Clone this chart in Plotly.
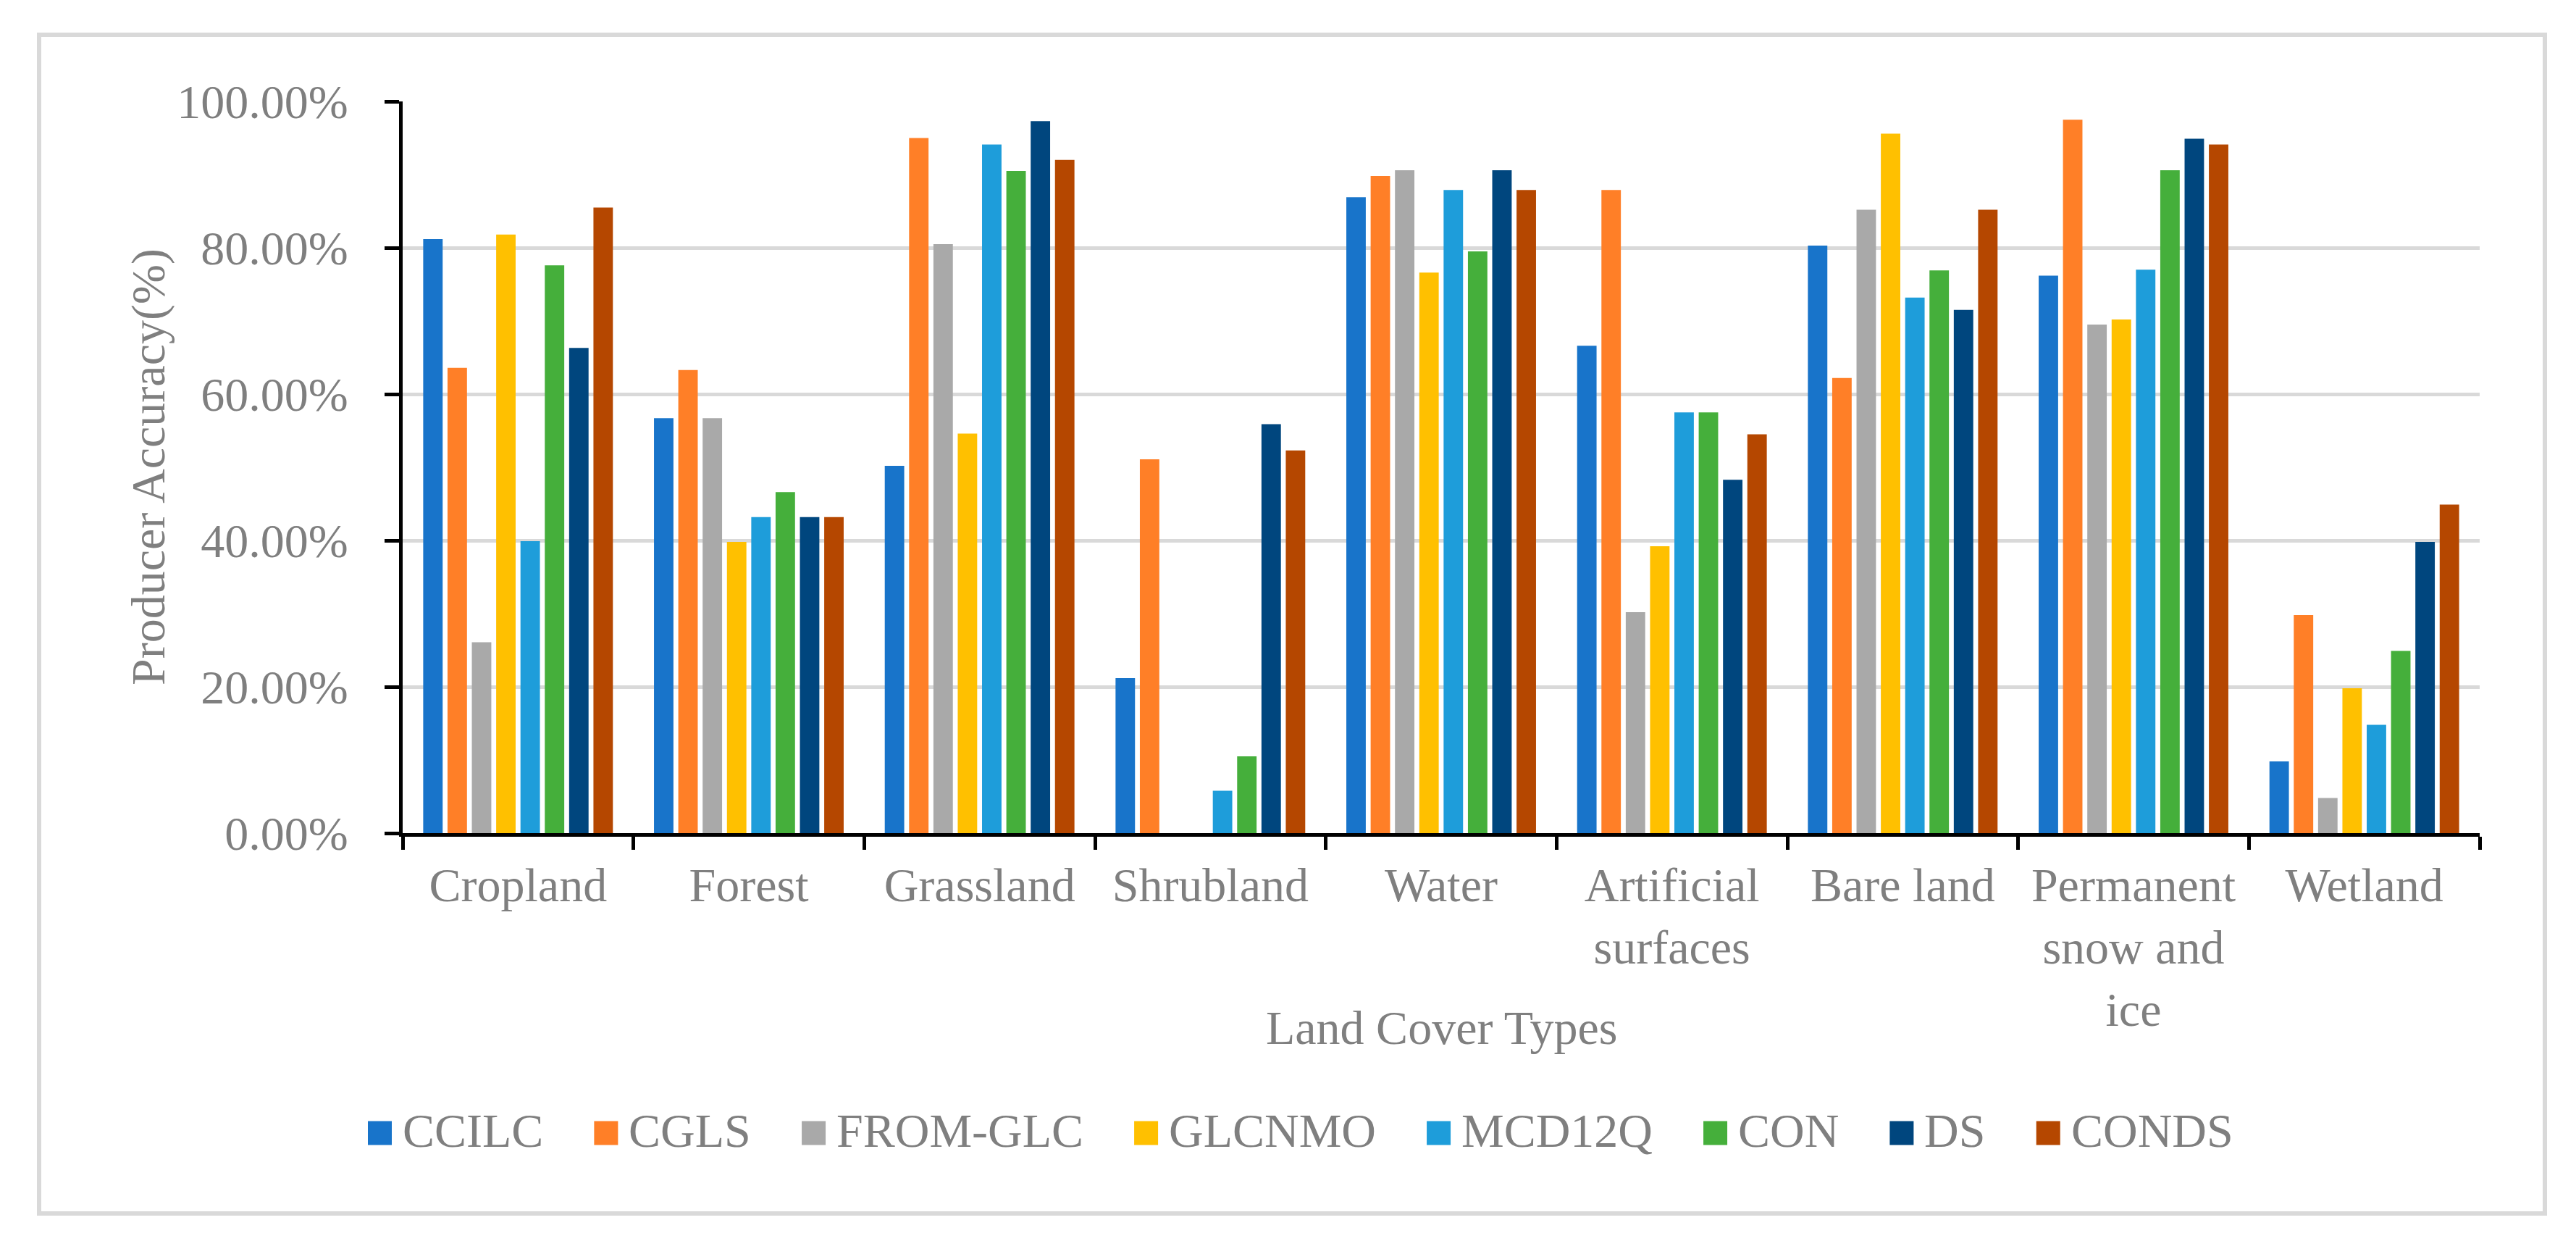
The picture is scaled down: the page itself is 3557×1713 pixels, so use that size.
import plotly.graph_objects as go

# ---------------- data ----------------
categories = ["Cropland", "Forest", "Grassland", "Shrubland", "Water",
              "Artificial surfaces", "Bare land", "Permanent snow and ice", "Wetland"]
tick_labels = ["Cropland", "Forest", "Grassland", "Shrubland", "Water",
               "Artificial<br>surfaces", "Bare land", "Permanent<br>snow and<br>ice", "Wetland"]

series_names = ["CCILC", "CGLS", "FROM-GLC", "GLCNMO", "MCD12Q", "CON", "DS", "CONDS"]

ccilc    = [81.2, 56.7, 50.2, 21.2, 86.9, 66.6, 80.3, 76.2, 9.8]
cgls     = [63.6, 63.3, 95.0, 51.1, 89.8, 87.9, 62.2, 97.5, 29.8]
from_glc = [26.1, 56.7, 80.5, 0.0, 90.6, 30.2, 85.2, 69.5, 4.8]
glcnmo   = [81.8, 39.8, 54.6, 0.0, 76.6, 39.2, 95.6, 70.2, 19.8]
mcd12q   = [39.9, 43.2, 94.1, 5.8, 87.9, 57.5, 73.2, 77.0, 14.8]
con      = [77.6, 46.6, 90.5, 10.5, 79.5, 57.5, 76.9, 90.6, 24.9]
ds       = [66.3, 43.2, 97.3, 55.9, 90.6, 48.3, 71.5, 94.9, 39.8]
conds    = [85.5, 43.2, 92.0, 52.3, 87.9, 54.5, 85.2, 94.1, 44.9]

series_values = [ccilc, cgls, from_glc, glcnmo, mcd12q, con, ds, conds]
series_colors = ["#1874CA", "#FF7F27", "#A9A9A9", "#FFC000",
                 "#1E9DDA", "#45AF3B", "#00467E", "#B54700"]

y_ticks = [0, 20, 40, 60, 80, 100]
y_tick_text = ["0.00%", "20.00%", "40.00%", "60.00%", "80.00%", "100.00%"]

# ---------------- layout geometry (px) ----------------
W, H = 3557, 1713
L, R, T, B = 548, 3416, 132, 1142
FONT = "Liberation Serif, Times New Roman, serif"
FS = 66
GRAY = "#7F7F7F"


def px2x(px):
    return (px - L) / (R - L)


def py2y(py):
    return (B - py) / (B - T)


fig = go.Figure()
for name, vals, col in zip(series_names, series_values, series_colors):
    fig.add_trace(go.Bar(x=tick_labels, y=vals, name=name,
                         marker=dict(color=col, line=dict(width=0)),
                         showlegend=False))

# outer chart border
shapes = [dict(type="rect", xref="paper", yref="paper",
               x0=px2x(46), x1=px2x(3506), y0=py2y(1667), y1=py2y(40),
               line=dict(color="#D9D9D9", width=6), fillcolor="rgba(0,0,0,0)",
               layer="below")]
annotations = []

# custom legend (large squares like the source)
char_w = {"C": .667, "I": .333, "L": .611, "G": .722, "S": .556, "F": .556,
          "R": .667, "O": .722, "M": .889, "-": .333, "N": .722, "D": .722,
          "1": .5, "2": .5, "Q": .722}
sq, sq_gap, item_gap = 33, 13, 72
x = 500
ycen = 1552
for name, col in zip(series_names, series_colors):
    shapes.append(dict(type="rect", xref="paper", yref="paper",
                       x0=px2x(x), x1=px2x(x + sq),
                       y0=py2y(ycen + 4 + sq / 2), y1=py2y(ycen + 4 - sq / 2),
                       line=dict(width=0), fillcolor=col))
    tx = x + sq + sq_gap
    annotations.append(dict(text=name, xref="paper", yref="paper",
                            x=px2x(tx), y=py2y(ycen), xanchor="left", yanchor="middle",
                            showarrow=False, font=dict(family=FONT, size=FS, color=GRAY)))
    tw = sum(char_w.get(c, .6) for c in name) * FS
    x = tx + tw + item_gap

# axis titles
annotations.append(dict(text="Land Cover Types", xref="paper", yref="paper",
                        x=0.5, y=py2y(1410), xanchor="center", yanchor="middle",
                        showarrow=False, font=dict(family=FONT, size=FS, color=GRAY)))
annotations.append(dict(text="Producer Accuracy(%)", xref="paper", yref="paper",
                        x=px2x(197), y=0.5, xanchor="center", yanchor="middle",
                        textangle=-90, showarrow=False,
                        font=dict(family=FONT, size=FS, color=GRAY)))

fig.update_layout(
    width=W, height=H,
    margin=dict(l=L, r=W - R, t=T, b=H - B, pad=0),
    paper_bgcolor="white", plot_bgcolor="white",
    barmode="group", bargap=0.157, bargroupgap=0.2,
    font=dict(family=FONT, size=FS, color=GRAY),
    shapes=shapes, annotations=annotations,
    showlegend=False,
)
fig.update_xaxes(
    type="category", range=[-0.5, len(categories) - 0.5],
    showline=True, linecolor="black", linewidth=5,
    ticks="outside", tickson="boundaries", ticklen=18, tickwidth=5, tickcolor="black",
    showgrid=False, zeroline=False,
    tickfont=dict(family=FONT, size=FS, color=GRAY),
    ticklabelstandoff=10,
)
fig.update_yaxes(
    range=[0, 100], tickmode="array", tickvals=y_ticks, ticktext=y_tick_text,
    showline=True, linecolor="black", linewidth=5,
    ticks="outside", ticklen=20, tickwidth=5, tickcolor="black",
    showgrid=True, gridcolor="#D9D9D9", gridwidth=5, zeroline=False,
    tickfont=dict(family=FONT, size=FS, color=GRAY),
    ticklabelstandoff=37,
)

fig.write_html("out.html")
